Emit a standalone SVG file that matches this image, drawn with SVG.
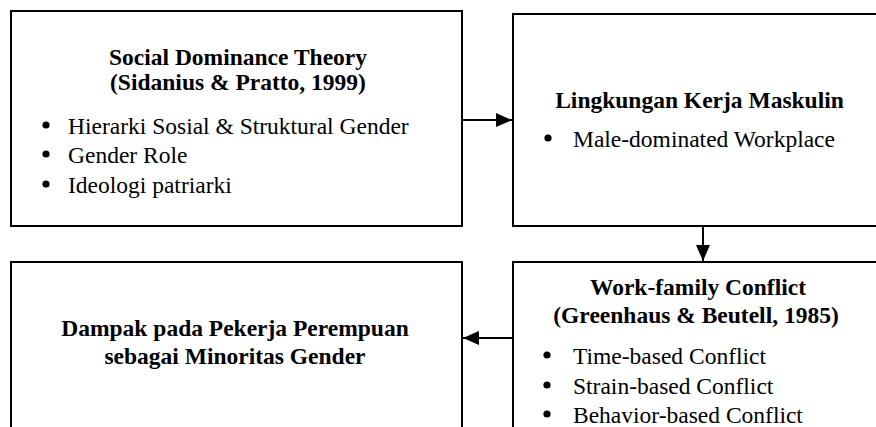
<svg xmlns="http://www.w3.org/2000/svg" width="876" height="427" viewBox="0 0 876 427">
<style>
.box{fill:#fff;stroke:#000;stroke-width:2}
.t{font-family:"Liberation Serif","Times New Roman",serif;font-size:23.5px;fill:#000}
.b{font-weight:bold;text-anchor:middle}
.dot{fill:#000}
.conn{stroke:#000;stroke-width:2;fill:none}
</style>
<defs>
<marker id="ah" markerWidth="16" markerHeight="14" refX="16" refY="7" orient="auto" markerUnits="userSpaceOnUse">
<path d="M0,0 L16,7 L0,14 Z" fill="#000"/>
</marker>
</defs>
<rect width="876" height="427" fill="#fff"/>
<g id="node-sdt">
<rect class="box" x="11" y="11" width="451" height="215"/>
<text class="t b" x="238" y="65">Social Dominance Theory</text>
<text class="t b" x="238" y="90">(Sidanius &amp; Pratto, 1999)</text>
<circle class="dot" cx="46" cy="125" r="3.6"/><text class="t" x="68" y="134">Hierarki Sosial &amp; Struktural Gender</text>
<circle class="dot" cx="46" cy="154" r="3.6"/><text class="t" x="68" y="163">Gender Role</text>
<circle class="dot" cx="46" cy="184" r="3.6"/><text class="t" x="68" y="193">Ideologi patriarki</text>
</g>
<g id="node-lingkungan">
<rect class="box" x="513" y="14" width="380" height="212"/>
<text class="t b" x="699.5" y="108">Lingkungan Kerja Maskulin</text>
<circle class="dot" cx="548" cy="138" r="3.6"/><text class="t" x="573" y="147">Male-dominated Workplace</text>
</g>
<g id="node-dampak">
<rect class="box" x="11" y="262" width="451" height="180"/>
<text class="t b" x="235" y="336">Dampak pada Pekerja Perempuan</text>
<text class="t b" x="235" y="364">sebagai Minoritas Gender</text>
</g>
<g id="node-wfc">
<rect class="box" x="513" y="262" width="380" height="180"/>
<text class="t b" x="698" y="295">Work-family Conflict</text>
<text class="t b" x="696" y="323">(Greenhaus &amp; Beutell, 1985)</text>
<circle class="dot" cx="547" cy="355" r="3.6"/><text class="t" x="573" y="364">Time-based Conflict</text>
<circle class="dot" cx="547" cy="385" r="3.6"/><text class="t" x="573" y="394">Strain-based Conflict</text>
<circle class="dot" cx="547" cy="414" r="3.6"/><text class="t" x="573" y="423">Behavior-based Conflict</text>
</g>
<g id="connectors">
<line class="conn" x1="462" y1="120" x2="512" y2="120" marker-end="url(#ah)"/>
<line class="conn" x1="703" y1="226" x2="703" y2="261" marker-end="url(#ah)"/>
<line class="conn" x1="513" y1="338" x2="463" y2="338" marker-end="url(#ah)"/>
</g>
</svg>
